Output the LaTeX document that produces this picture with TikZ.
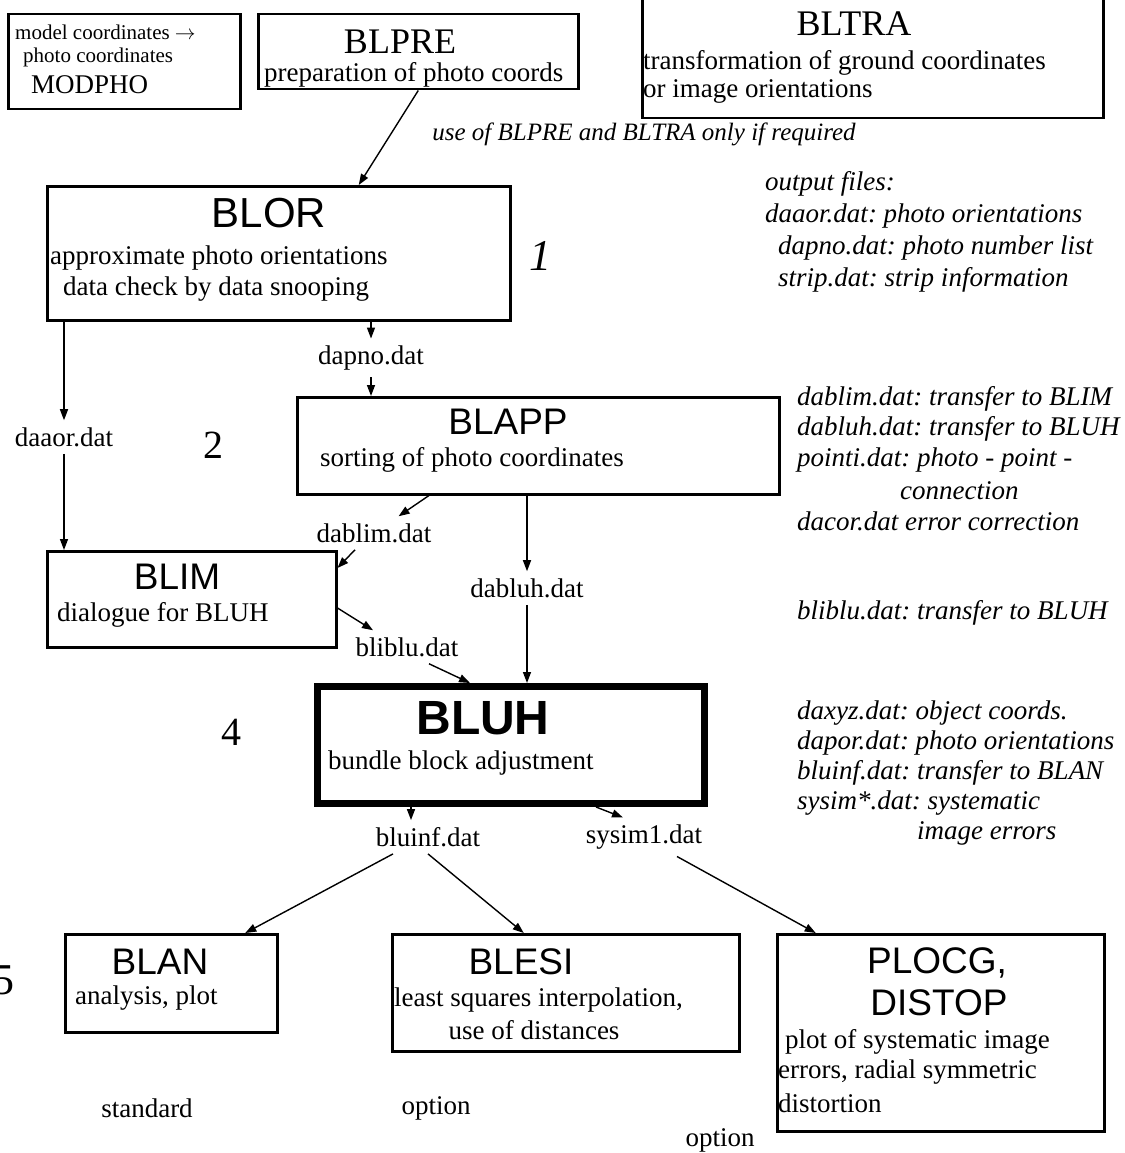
\documentclass[tikz,border=0pt]{standalone}
\usepackage{fontspec}
\setmainfont{Liberation Serif}
\setsansfont{Liberation Sans}
\usetikzlibrary{arrows.meta}
\frenchspacing

\newcommand{\fsmall}{\fontsize{21}{24}\selectfont}
\newcommand{\fnorm}{\fontsize{27}{31}\selectfont}
\newcommand{\fhead}{\fontsize{37}{42}\selectfont}
\newcommand{\fbig}{\fontsize{44}{50}\selectfont}

\begin{document}
\begin{tikzpicture}[x=1pt, y=-1pt,
    prog/.style={draw, line width=2.5pt, inner sep=0pt, anchor=north west},
    mainprog/.style={prog, line width=7pt},
    txt/.style={inner sep=0pt, font=\fnorm},
    note/.style={inner sep=0pt, font=\fnorm\itshape, anchor=west},
    head/.style={inner sep=0pt, font=\fhead\sffamily},
    datfile/.style={inner xsep=0pt, inner ysep=7pt, font=\fnorm},
    step num/.style={inner sep=0pt, font=\fbig},
    arr/.style={-{Triangle[length=11pt,width=8pt]}, line width=1.4pt}]

\useasboundingbox (0,0) rectangle (1124,1153);

% top row
\node[prog, minimum width=232pt, minimum height=95pt] (modpho) at (7,13) {};
\node[txt, anchor=west, font=\fsmall] (modpho1) at (15,32) {model coordinates $\rightarrow$};
\node[txt, anchor=west, font=\fsmall] (modpho2) at (23,57) {photo coordinates};
\node[txt, anchor=west] (modpho3) at (31,85) {MODPHO};

\node[prog, minimum width=320pt, minimum height=75pt] (blpre) at (257,13) {};
\node[txt, font=\fontsize{36}{40}\selectfont] (blpret) at (400,42) {BLPRE};
\node[txt, anchor=west] (blpred) at (264,75) {preparation of photo coords};

\node[prog, minimum width=461pt, minimum height=122pt] (bltra) at (641,-5) {};
\node[txt, font=\fontsize{36}{40}\selectfont] (bltrat) at (854,24) {BLTRA};
\node[txt, anchor=west] (bltrad1) at (643,63) {transformation of ground coordinates};
\node[txt, anchor=west] (bltrad2) at (643,91) {or image orientations};

\node[note, anchor=center, font=\fontsize{25}{29}\selectfont\itshape] (optnote) at (644,134) {use of BLPRE and BLTRA only if required};

% step 1
\node[prog, minimum width=463pt, minimum height=134pt] (blor) at (46,185) {};
\node[head, font=\fontsize{42}{46}\selectfont\sffamily] (blort) at (269,213) {BLOR};
\node[txt, anchor=west] (blord1) at (50,258) {approximate photo orientations};
\node[txt, anchor=west] (blord2) at (63,289) {data check by data snooping};
\node[step num, font=\fbig\itshape] (n1) at (540,256) {1};

\node[note] (out0) at (765,184) {output files:};
\node[note] (out1) at (765,216) {daaor.dat: photo orientations};
\node[note] (out2) at (778,248) {dapno.dat: photo number list};
\node[note] (out3) at (778,280) {strip.dat: strip information};

\node[datfile] (dapno) at (371,358) {dapno.dat};
\node[datfile] (daaor) at (64,437) {daaor.dat};

% step 2
\node[prog, minimum width=482pt, minimum height=97pt] (blapp) at (296,396) {};
\node[head] (blappt) at (508,422) {BLAPP};
\node[txt, anchor=west] (blappd) at (320,460) {sorting of photo coordinates};
\node[step num, font=\fontsize{40}{44}\selectfont] (n2) at (213,445) {2};

\node[note] (app1) at (797,399) {dablim.dat: transfer to BLIM};
\node[note] (app2) at (797,429) {dabluh.dat: transfer to BLUH};
\node[note] (app3) at (797,460) {pointi.dat: photo - point -};
\node[note] (app4) at (900,491) {connection};
\node[note] (app5) at (797,521) {dacor.dat error correction};

\node[datfile] (dablim) at (374,533) {dablim.dat};
\node[datfile] (dabluh) at (527,588) {dabluh.dat};

\node[prog, minimum width=289pt, minimum height=96pt] (blim) at (46,550) {};
\node[head] (blimt) at (177,577) {BLIM};
\node[txt, anchor=west] (blimd) at (57,615) {dialogue for BLUH};
\node[note] (imnote) at (797,613) {bliblu.dat: transfer to BLUH};

\node[datfile] (bliblu) at (407,647) {bliblu.dat};

% step 4
\node[mainprog, minimum width=387pt, minimum height=117pt] (bluh) at (314,683) {};
\node[head, font=\fontsize{48}{52}\selectfont\sffamily\bfseries] (bluht) at (483,718) {BLUH};
\node[txt, anchor=west] (bluhd) at (328,763) {bundle block adjustment};
\node[step num, font=\fontsize{40}{44}\selectfont] (n4) at (231,732) {4};

\node[note] (uh1) at (797,713) {daxyz.dat: object coords.};
\node[note] (uh2) at (797,743) {dapor.dat: photo orientations};
\node[note] (uh3) at (797,773) {bluinf.dat: transfer to BLAN};
\node[note] (uh4) at (797,803) {sysim*.dat: systematic};
\node[note] (uh5) at (917,833) {image errors};

\node[datfile] (bluinf) at (428,837) {bluinf.dat};
\node[datfile] (sysim) at (644,837) {sysim1.dat};

% step 5
\node[step num] (n5) at (3,980) {5};
\node[prog, minimum width=212pt, minimum height=98pt] (blan) at (64,933) {};
\node[head] (blant) at (160,962) {BLAN};
\node[txt, anchor=west] (bland) at (75,998) {analysis, plot};

\node[prog, minimum width=347pt, minimum height=117pt] (blesi) at (391,933) {};
\node[head] (blesit) at (521,962) {BLESI};
\node[txt, anchor=west] (blesid1) at (394,1000) {least squares interpolation,};
\node[txt] (blesid2) at (534,1030) {use of distances};

\node[prog, minimum width=327pt, minimum height=197pt] (plocg) at (776,933) {};
\node[head] (plocgt1) at (937,963) {PLOCG,};
\node[head] (plocgt2) at (939,1003) {DISTOP};
\node[txt, anchor=west] (plocgd1) at (785,1042) {plot of systematic image};
\node[txt, anchor=west] (plocgd2) at (778,1072) {errors, radial symmetric};
\node[txt, anchor=west] (plocgd3) at (778,1103) {distortion};

\node[txt] (std) at (147,1108) {standard};
\node[txt] (opt1) at (436,1108) {option};
\node[txt] (opt2) at (720,1140) {option};

% connectors
\draw[arr] (blpre.south) -- ([xshift=80pt]blor.north);
\draw[arr] (blor.south -| dapno.north) -- (dapno.north);
\draw[arr] (dapno.south) -- (dapno.south |- blapp.north);
\draw[arr] (blor.south -| daaor.north) -- (daaor.north);
\draw[arr] (daaor.south) -- (daaor.south |- blim.north);
\draw[arr] ([xshift=133pt]blapp.south west) -- (dablim);
\draw[arr] ([xshift=-19pt]dablim.south) -- ([yshift=-18pt]blim.north east);
\draw[arr] (blapp.south -| dabluh.north) -- (dabluh.north);
\draw[arr] (dabluh.south) -- (dabluh.south |- bluh.north);
\draw[arr] ([yshift=-58pt]blim.north east) -- ([xshift=-34pt]bliblu.north);
\draw[arr] ([xshift=22pt]bliblu.south) -- ([xshift=-41pt]bluh.north);
\coordinate (bi) at ([xshift=-17pt]bluinf.north);
\draw[arr] (bi |- bluh.south) -- (bi);
\draw[arr] ([xshift=-112pt]bluh.south east) -- ([xshift=-21pt]sysim.north);
\draw[arr] ([xshift=-35pt]bluinf.south) -- ([xshift=74pt]blan.north);
\draw[arr] (bluinf.south) -- ([xshift=-42pt]blesi.north);
\draw[arr] ([xshift=33pt]sysim.south) -- ([xshift=-125pt]plocg.north);
\end{tikzpicture}
\end{document}
